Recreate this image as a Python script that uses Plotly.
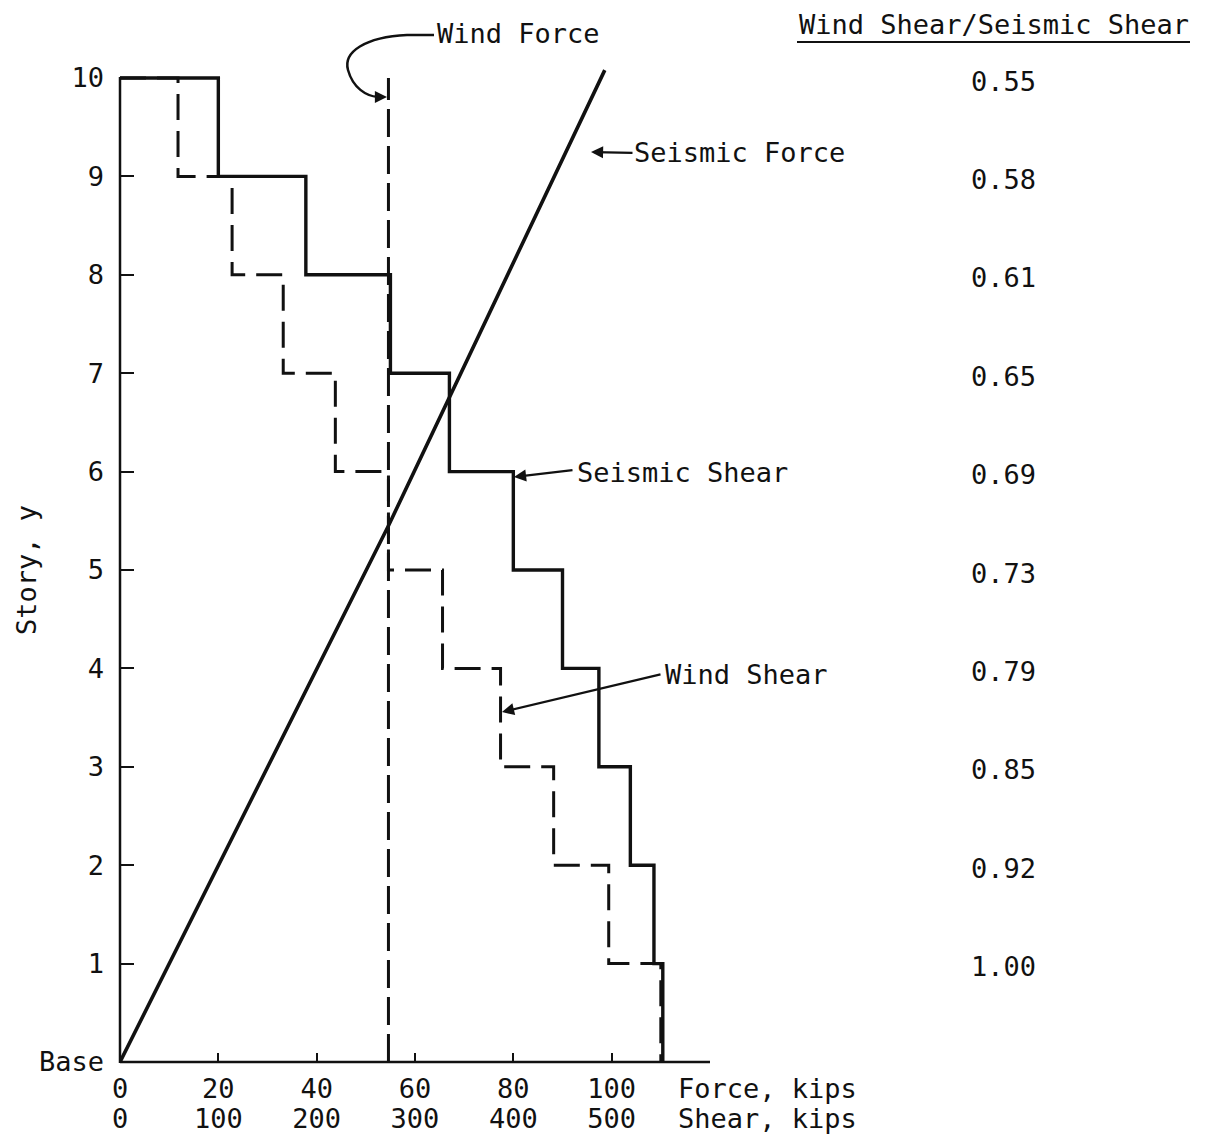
import plotly.graph_objects as go

# ---------------- data ----------------
stories = [10, 9, 8, 7, 6, 5, 4, 3, 2, 1]
seismic_shear = [100, 189, 275, 335, 400, 450, 487, 519, 543, 552]   # kips
wind_shear = [59, 114, 166, 219, 273, 328, 387, 441, 497, 550]       # kips
ratio_labels = ["0.55", "0.58", "0.61", "0.65", "0.69", "0.73", "0.79", "0.85", "0.92", "1.00"]
wind_force = 54.6                     # kips (uniform)
seismic_force_story = [0, 5.45, 10.08]
seismic_force_kips = [0, 54.6, 98.6]
force_ticks = [0, 20, 40, 60, 80, 100, 120]
force_ticktext = ["0", "20", "40", "60", "80", "100", ""]
shear_ticks = [0, 100, 200, 300, 400, 500]
story_ticks = [0, 1, 2, 3, 4, 5, 6, 7, 8, 9, 10]
story_ticktext = ["Base", "1", "2", "3", "4", "5", "6", "7", "8", "9", "10"]

FONT = "DejaVu Sans Mono"
FS = 27
INK = "#111111"

W, H = 1206, 1141
L, R, T, B = 120, 496, 48, 79
PX0, PX1 = L, W - R          # 120 .. 710
PY0, PY1 = H - B, T          # 1062 .. 48


def fx(p):  # pixel x -> paper
    return (p - PX0) / (PX1 - PX0)


def fy(p):  # pixel y -> paper
    return (PY0 - p) / (PY0 - PY1)


def steps(top, shears):
    xs, ys = [0], [top]
    for s, v in zip(stories, shears):
        xs += [v, v]
        ys += [s, s - 1]
    return xs, ys


fig = go.Figure()

sx, sy = steps(10, seismic_shear)
fig.add_trace(go.Scatter(x=sx, y=sy, xaxis="x2", yaxis="y", mode="lines",
                         line=dict(color=INK, width=3.4), name="Seismic Shear",
                         hoverinfo="skip"))
wx, wy = steps(10, wind_shear)
fig.add_trace(go.Scatter(x=wx, y=wy, xaxis="x2", yaxis="y", mode="lines",
                         line=dict(color=INK, width=3, dash="26px,11px"), name="Wind Shear",
                         hoverinfo="skip"))
fig.add_trace(go.Scatter(x=[wind_force, wind_force], y=[0, 10], mode="lines",
                         line=dict(color=INK, width=3, dash="28px,9px"), name="Wind Force",
                         hoverinfo="skip"))
fig.add_trace(go.Scatter(x=seismic_force_kips, y=seismic_force_story, mode="lines",
                         line=dict(color=INK, width=3.6), name="Seismic Force",
                         hoverinfo="skip"))

# axis lines
shapes = [
    dict(type="line", xref="paper", yref="paper", x0=fx(120), x1=fx(710), y0=fy(1062), y1=fy(1062),
         line=dict(color=INK, width=2.5)),
    dict(type="line", xref="paper", yref="paper", x0=fx(120), x1=fx(120), y0=fy(1063), y1=fy(77),
         line=dict(color=INK, width=2.5)),
    # underline of the ratio header
    dict(type="line", xref="paper", yref="paper", x0=fx(797), x1=fx(1190), y0=fy(42), y1=fy(42),
         line=dict(color=INK, width=2)),
    # curved leader for "Wind Force"
    dict(type="path", xref="paper", yref="paper",
         path=(f"M {fx(434)} {fy(35)} L {fx(407)} {fy(35)} "
               f"C {fx(365)} {fy(37)} {fx(343)} {fy(52)} {fx(348)} {fy(70)} "
               f"C {fx(353)} {fy(88)} {fx(366)} {fy(96)} {fx(378)} {fy(97)}"),
         line=dict(color=INK, width=2.5)),
]

ann = []


def text(px, py, s, xanchor="left", angle=0):
    ann.append(dict(xref="paper", yref="paper", x=fx(px), y=fy(py), text=s, showarrow=False,
                    xanchor=xanchor, yanchor="middle", textangle=angle,
                    font=dict(family=FONT, size=FS, color=INK)))


def arrow(tipx, tipy, tailx, taily):
    ann.append(dict(xref="paper", yref="paper", x=fx(tipx), y=fy(tipy), text="",
                    showarrow=True, ax=tailx - tipx, ay=taily - tipy, axref="pixel", ayref="pixel",
                    arrowhead=2, arrowsize=1.1, arrowwidth=2.2, arrowcolor=INK, standoff=0,
                    startstandoff=0))


text(435, 34, "Wind Force")
arrow(387, 97, 374, 97)
text(632, 153, "Seismic Force")
arrow(591, 152, 634, 153)
text(575, 472, "Seismic Shear")
arrow(514, 477, 574, 470)
text(663, 674, "Wind Shear")
arrow(502, 712, 662, 674)
text(797, 24, "Wind Shear/Seismic Shear")
text(676, 1088, "Force, kips")
text(676, 1118, "Shear, kips")
text(26, 570, "Story, y", xanchor="center", angle=-90)

for s, r in zip(stories, ratio_labels):
    ann.append(dict(xref="paper", yref="y", x=fx(1003), y=s, yshift=-3, text=r, showarrow=False,
                    xanchor="center", yanchor="middle",
                    font=dict(family=FONT, size=FS, color=INK)))

fig.update_layout(
    width=W, height=H,
    margin=dict(l=L, r=R, t=T, b=B, autoexpand=False),
    paper_bgcolor="white", plot_bgcolor="white",
    showlegend=False,
    font=dict(family=FONT, size=FS, color=INK),
    xaxis=dict(range=[0, 120], tickvals=force_ticks, ticktext=force_ticktext,
               ticks="inside", ticklen=9, tickwidth=2, tickcolor=INK,
               showgrid=False, zeroline=False, showline=False, automargin=False,
               ticklabelstandoff=8,
               tickfont=dict(family=FONT, size=FS, color=INK)),
    xaxis2=dict(range=[0, 600], overlaying="x", anchor="y", side="bottom",
                tickvals=shear_ticks, ticks="", showgrid=False, zeroline=False, showline=False,
                automargin=False, ticklabelstandoff=38,
                tickfont=dict(family=FONT, size=FS, color=INK)),
    yaxis=dict(range=[0, (PY0 - PY1) / 98.4], tickvals=story_ticks, ticktext=story_ticktext,
               ticks="inside", ticklen=14, tickwidth=2, tickcolor=INK,
               showgrid=False, zeroline=False, showline=False, automargin=False,
               ticklabelstandoff=15,
               tickfont=dict(family=FONT, size=FS, color=INK)),
    shapes=shapes,
    annotations=ann,
)

fig.write_html("out.html")
